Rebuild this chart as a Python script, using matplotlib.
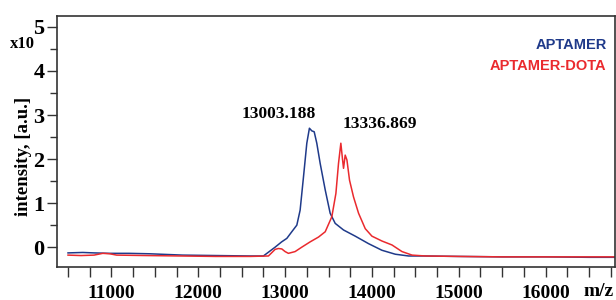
import matplotlib.pyplot as plt
from matplotlib.ticker import MultipleLocator, FuncFormatter

# m/z values and intensities (x10^5 a.u.)
aptamer_mz = [10500, 10670, 10800, 10980, 11200, 11440, 11820, 12200, 12600, 12750,
              12885, 12960, 13020, 13077, 13135, 13173, 13212, 13250, 13280, 13308,
              13335, 13365, 13404, 13462, 13519, 13577, 13673, 13808, 13961, 14115,
              14269, 14423, 14600, 15000, 15500, 16000, 16500, 16800]
aptamer_int = [-0.13, -0.12, -0.13, -0.14, -0.14, -0.15, -0.18, -0.19, -0.2, -0.2,
               0.0, 0.12, 0.2, 0.35, 0.5, 0.84, 1.6, 2.36, 2.7, 2.64,
               2.62, 2.36, 1.9, 1.3, 0.77, 0.54, 0.39, 0.25, 0.08, -0.07,
               -0.16, -0.2, -0.2, -0.21, -0.22, -0.22, -0.23, -0.23]

dota_mz = [10500, 10650, 10800, 10900, 10980, 11060, 11400, 11800, 12200, 12600,
           12808, 12885, 12923, 12962, 13000, 13038, 13115, 13192, 13288, 13385,
           13462, 13538, 13585, 13615, 13642, 13662, 13673, 13692, 13712, 13742,
           13788, 13846, 13923, 14000, 14115, 14231, 14346, 14462, 14615, 15000,
           15500, 16000, 16500, 16800]
dota_int = [-0.18, -0.19, -0.18, -0.14, -0.15, -0.18, -0.19, -0.2, -0.21, -0.21,
            -0.2, -0.05, -0.03, -0.04, -0.1, -0.14, -0.1, 0.0, 0.12, 0.23,
            0.35, 0.69, 1.22, 1.9, 2.36, 1.98, 1.79, 2.09, 1.98, 1.52,
            1.14, 0.77, 0.42, 0.25, 0.14, 0.05, -0.1, -0.18, -0.2, -0.21,
            -0.22, -0.22, -0.22, -0.22]

peak_labels = ["13003.188", "13336.869"]
peak_pos = [(12925, 3.03), (14090, 2.8)]

BLUE = "#1f3a8a"
RED = "#ea2a2e"
serif = "Liberation Serif"

fig = plt.figure(figsize=(6.16, 3.0), dpi=100)
ax = fig.add_axes([0.0925, 0.11, 0.906, 0.837])

ax.plot(aptamer_mz, aptamer_int, color=BLUE, lw=1.1)
ax.plot(dota_mz, dota_int, color=RED, lw=1.1)

ax.set_xlim(10373, 16800)
ax.set_ylim(-0.45, 5.25)

ax.xaxis.set_major_locator(MultipleLocator(1000))
ax.xaxis.set_minor_locator(MultipleLocator(250))
ax.xaxis.set_major_formatter(FuncFormatter(lambda v, p: f"{int(v)}" if v <= 16000 else ""))
ax.yaxis.set_major_locator(MultipleLocator(1))
ax.yaxis.set_minor_locator(MultipleLocator(0.5))

ax.tick_params(axis="x", which="both", length=7, width=1, color="#333333", pad=6)
ax.tick_params(axis="y", which="major", length=7, width=1, color="#333333", pad=2)
ax.tick_params(axis="y", which="minor", length=5, width=1, color="#333333")
for lab in ax.get_xticklabels():
    lab.set_fontfamily(serif)
    lab.set_fontweight("bold")
    lab.set_fontsize(14)
for lab in ax.get_yticklabels():
    lab.set_fontfamily(serif)
    lab.set_fontweight("bold")
    lab.set_fontsize(16)

for s in ax.spines.values():
    s.set_color("#333333")
    s.set_linewidth(1.2)

ax.set_ylabel("intensity, [a.u.]", fontfamily=serif, fontweight="bold", fontsize=13.5)
ax.yaxis.set_label_coords(-0.045, 0.442)

# exponent marker sits just left of the top "5" tick label
fig.text(0.057, 0.855, "x10", fontfamily=serif, fontweight="bold", fontsize=12,
         ha="right", va="center")
ax.text(0.997, -0.063, "m/z", transform=ax.transAxes, fontfamily=serif,
        fontweight="bold", fontsize=14, ha="right", va="top")

for txt, (x, y) in zip(peak_labels, peak_pos):
    ax.text(x, y, txt, fontfamily=serif, fontweight="bold", fontsize=12.5,
            ha="center", va="center")

ax.text(0.985, 0.884, "APTAMER", transform=ax.transAxes, color=BLUE,
        fontfamily="Liberation Sans", fontweight="bold", fontsize=10.5, ha="right", va="center")
ax.text(0.985, 0.80, "APTAMER-DOTA", transform=ax.transAxes, color=RED,
        fontfamily="Liberation Sans", fontweight="bold", fontsize=10.5, ha="right", va="center")

fig.savefig("out.png", dpi=100)
